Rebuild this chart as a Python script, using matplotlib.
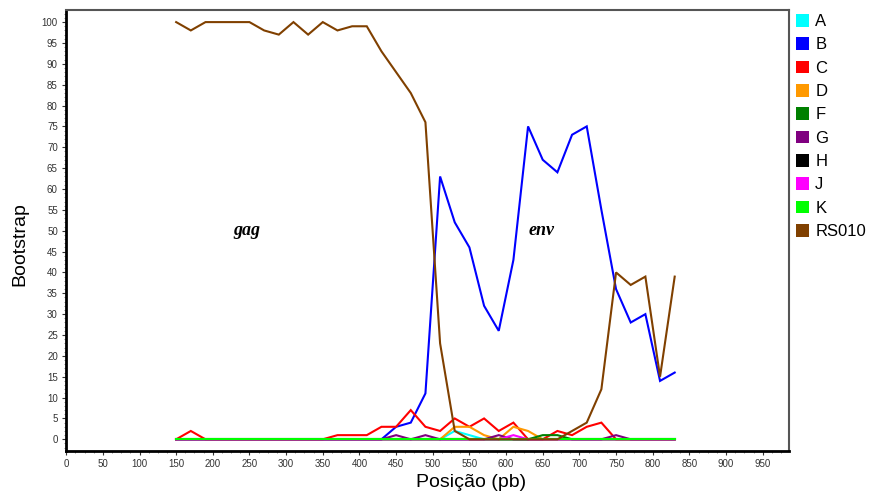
import numpy as np
import matplotlib.pyplot as plt
from matplotlib.patches import Patch
from matplotlib.ticker import MultipleLocator

plt.rcParams['font.family'] = ['Liberation Sans', 'DejaVu Sans']

# Posições das janelas (pb)
posicao = np.arange(150, 831, 20)

# Valores de bootstrap por subtipo
A = [0]*19 + [2, 1] + [0]*14
B = [0]*15 + [3, 4, 11, 63, 52, 46, 32, 26, 43, 75, 67, 64, 73, 75, 55, 36, 28, 30, 14, 16]
C = [0, 2] + [0]*9 + [1, 1, 1, 3, 3, 7, 3, 2, 5, 3, 5, 2, 4, 0, 0, 2, 1, 3, 4] + [0]*5
D = [0]*19 + [3, 3, 1, 0, 3, 2] + [0]*10
F = [0]*25 + [1, 1] + [0]*8
G = [0]*15 + [1, 0, 1, 0, 0, 0, 0, 1] + [0]*7 + [1] + [0]*4
H = [0]*35
J = [0]*23 + [1] + [0]*11
K = [0]*35
RS010 = [100, 98, 100, 100, 100, 100, 98, 97, 100, 97, 100, 98, 99, 99, 93, 88, 83, 76,
         23, 2, 0, 0, 0, 0, 0, 0, 0, 2, 4, 12, 40, 37, 39, 15, 39]

series = [('A', A, '#00FFFF'), ('B', B, '#0000FF'), ('C', C, '#FF0000'),
          ('D', D, '#FF9900'), ('F', F, '#008000'), ('G', G, '#800080'),
          ('H', H, '#000000'), ('J', J, '#FF00FF'), ('K', K, '#00FF00'),
          ('RS010', RS010, '#804000')]

fig = plt.figure(figsize=(8.72, 5.0), dpi=100)
ax = fig.add_axes([0.0759, 0.098, 0.829, 0.882])

for nome, valores, cor in series:
    ax.plot(posicao, valores, color=cor, lw=1.5, solid_joinstyle='miter')

ax.text(247, 50, 'gag', fontsize=13, family='Liberation Serif', style='italic',
        weight='bold', ha='center', va='center')
ax.text(648, 50, 'env', fontsize=13, family='Liberation Serif', style='italic',
        weight='bold', ha='center', va='center')

ax.set_xlim(0, 986)
ax.set_ylim(-2.8, 102.9)
ax.xaxis.set_major_locator(MultipleLocator(50))
ax.xaxis.set_minor_locator(MultipleLocator(12.5))
ax.yaxis.set_major_locator(MultipleLocator(5))
ax.yaxis.set_minor_locator(MultipleLocator(1))
ax.set_xticks(np.arange(0, 951, 50))
ax.tick_params(which='major', direction='out', length=3, width=0.8, labelsize=7,
               colors='#333333', pad=3)
ax.tick_params(which='minor', direction='out', length=1.5, width=0.6, colors='#777777')

for lado in ['left', 'bottom']:
    ax.spines[lado].set_linewidth(2)
    ax.spines[lado].set_color('black')
for lado in ['top', 'right']:
    ax.spines[lado].set_linewidth(1.5)
    ax.spines[lado].set_color('#555555')

ax.set_xlabel('Posição (pb)', fontsize=14)
ax.set_ylabel('Bootstrap', fontsize=14)
ax.xaxis.set_label_coords(0.56, -0.052)
ax.yaxis.set_label_coords(-0.052, 0.47)

handles = [Patch(facecolor=cor, edgecolor='none', label=nome) for nome, _, cor in series]
fig.legend(handles=handles, loc='upper left', bbox_to_anchor=(0.909, 0.979),
           frameon=False, fontsize=12, handlelength=0.8, handleheight=0.8,
           handletextpad=0.35, labelspacing=0.49, borderaxespad=0, borderpad=0.2)

fig.savefig('out.png', dpi=100)
